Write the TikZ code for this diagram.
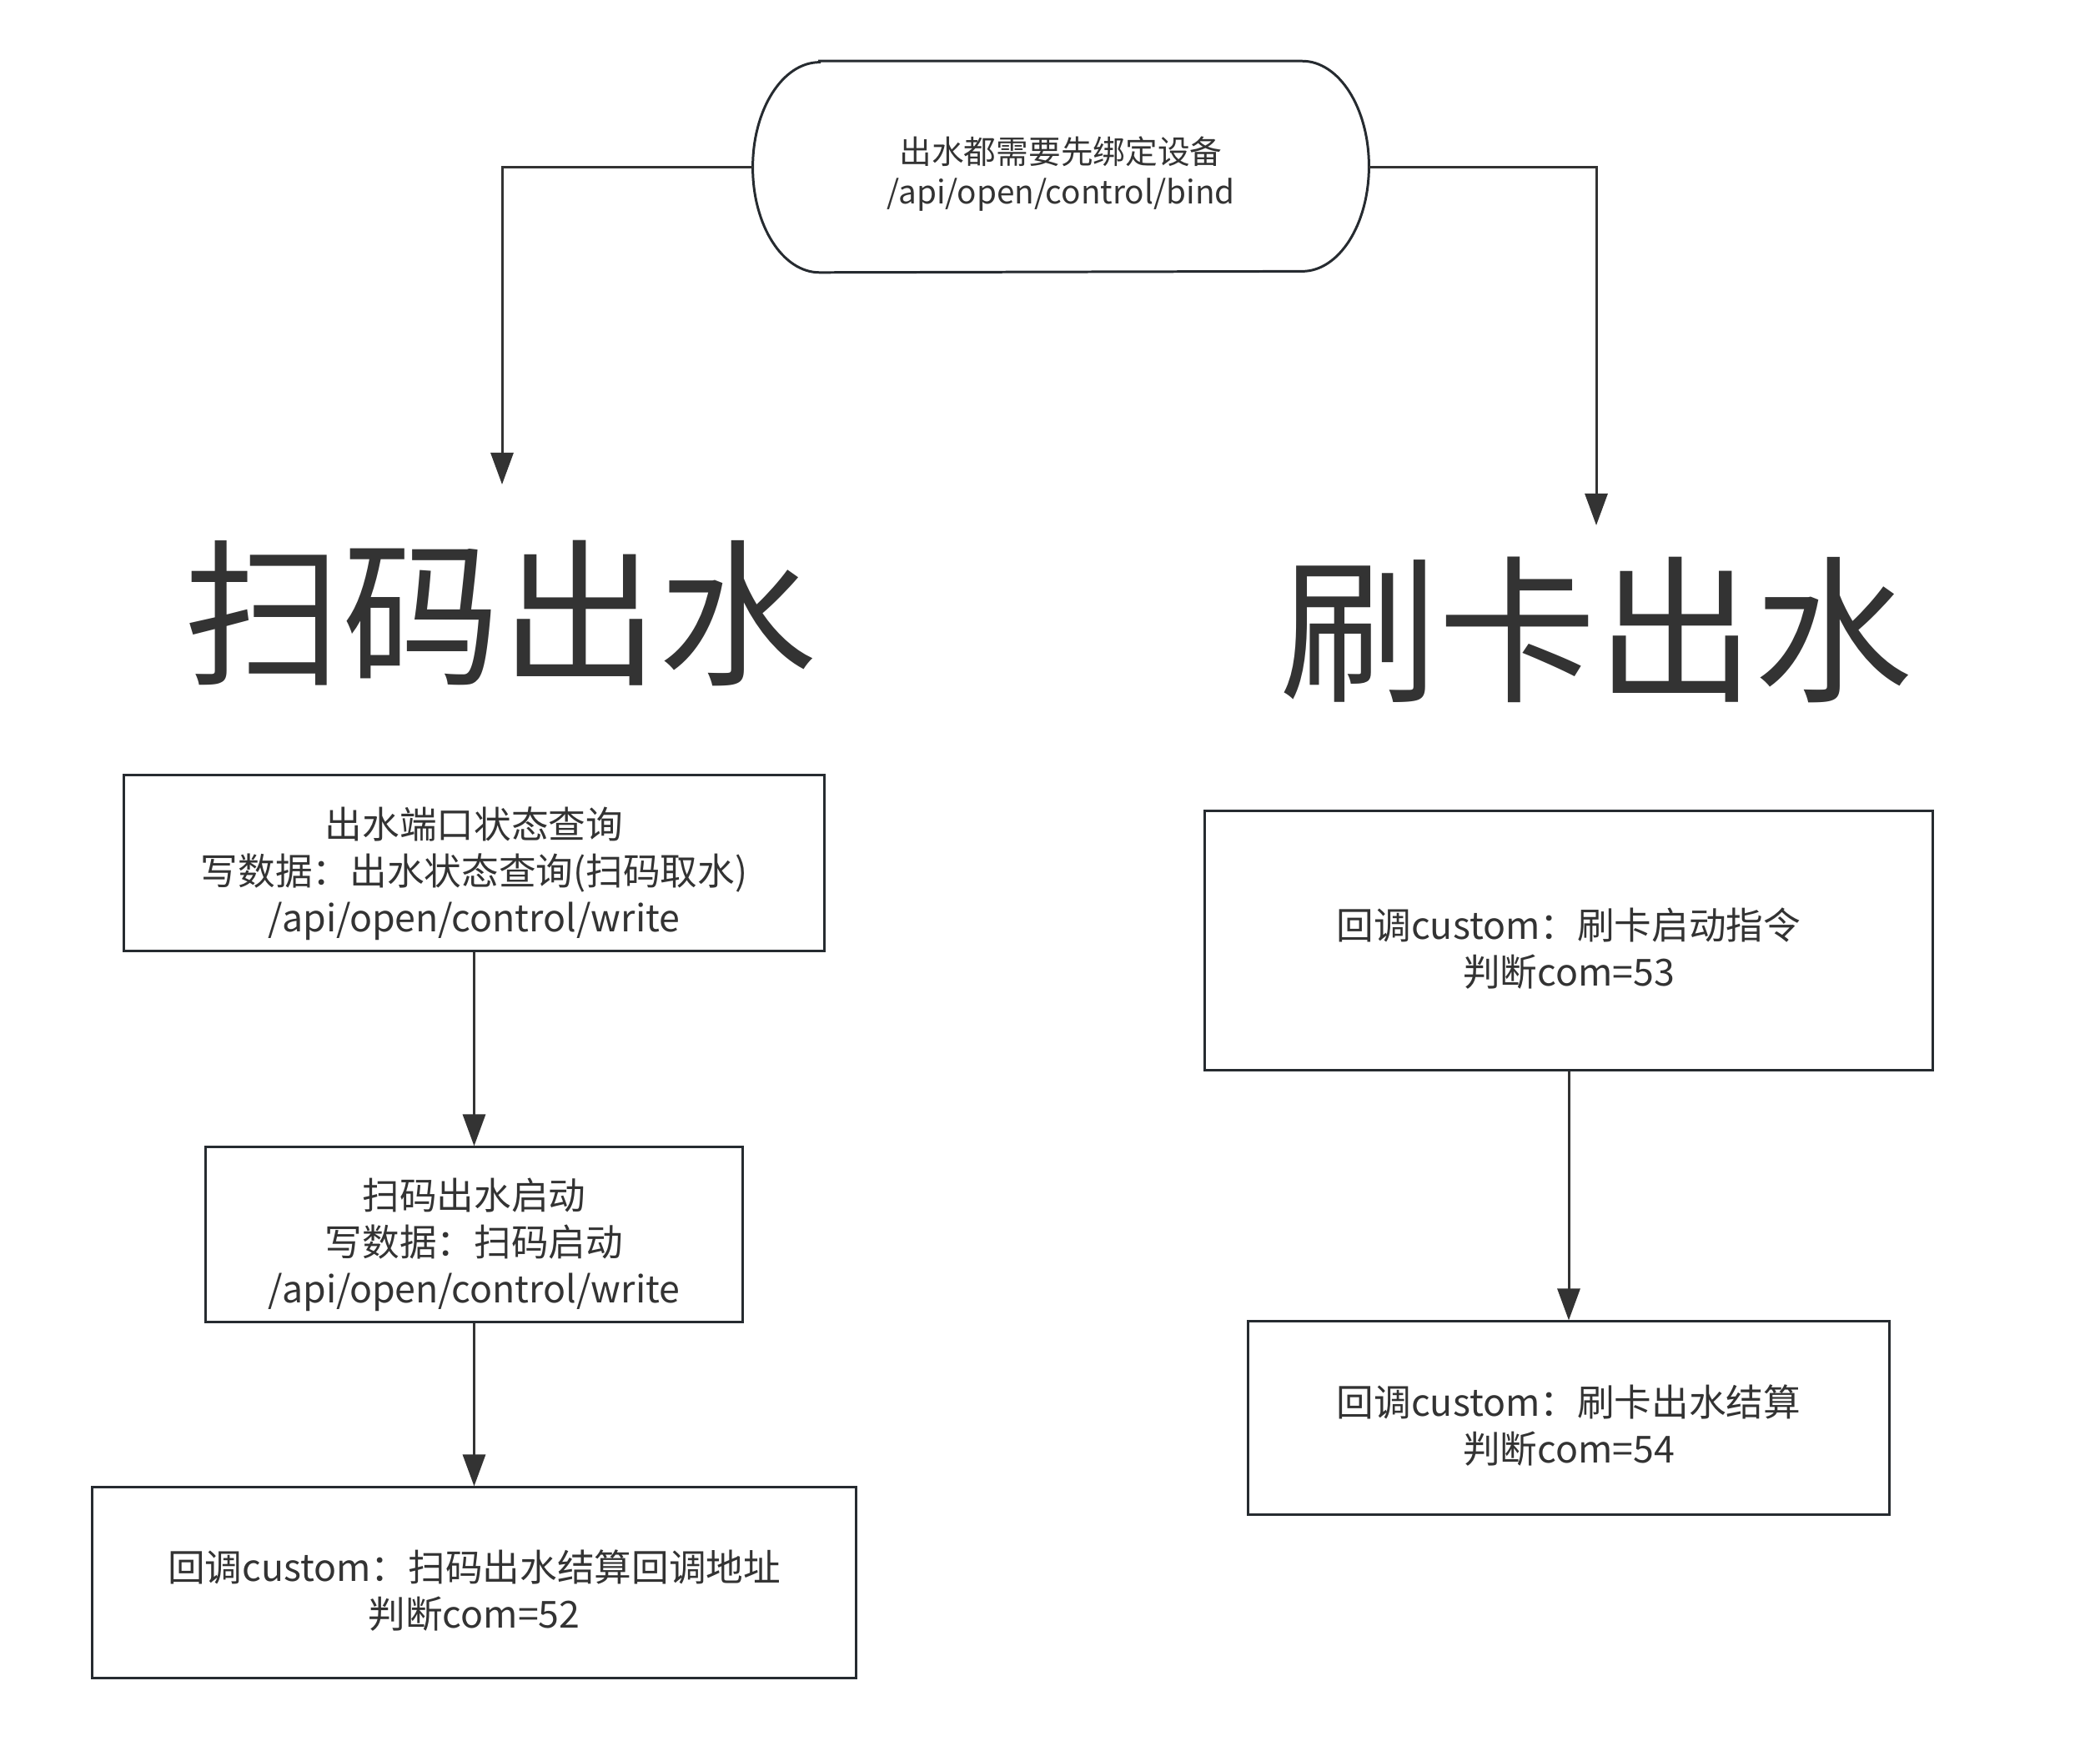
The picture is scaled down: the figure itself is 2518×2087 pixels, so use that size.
\documentclass[tikz,border=0pt]{standalone}
\usepackage{fontspec}
\setmainfont{Noto Sans CJK SC}
\usepackage{xcolor}
\usepackage{tikz}
\usetikzlibrary{arrows.meta,positioning}

\definecolor{inkgray}{HTML}{333333}
\definecolor{edgegray}{HTML}{262B30}

\newcommand{\boxstrut}{\rule{0pt}{15pt}}
\newcommand{\bindstrut}{\rule{0pt}{11.5pt}}

\tikzset{
  flowbox/.style = {draw = edgegray, line width = 0.85pt, fill = white,
    align = center, text = inkgray, inner sep = 0pt, text depth = 0pt,
    font = \fontsize{12.7}{15.9}\selectfont},
  outline/.style = {draw = edgegray, line width = 0.85pt},
  flowline/.style = {draw = inkgray, line width = 0.85pt,
    -{Triangle[width=0.27cm,length=0.38cm]}},
  bigtitle/.style = {text = inkgray, inner sep = 0pt,
    font = \fontsize{54}{60}\selectfont}
}

\begin{document}
\begin{tikzpicture}[x=0.01cm, y=-0.01cm]

\useasboundingbox (0,0) rectangle (2518,2087);

% top terminator
\node (bind)
[align = center, text = inkgray, inner sep = 0pt, text depth = 0pt,
 minimum width = 7.37cm, minimum height = 2.52cm,
 font = \fontsize{11}{13.6}\selectfont]
at (1272,200) {\bindstrut 出水都需要先绑定设备\\/api/open/control/bind};
\draw[outline]
  ([xshift=0.8cm]bind.north west) -- ([xshift=-0.8cm]bind.north east)
  arc[start angle=90, end angle=-90, x radius=0.8cm, y radius=1.26cm]
  -- ([xshift=0.8cm]bind.south west)
  arc[start angle=270, end angle=90, x radius=0.8cm, y radius=1.26cm]
  -- cycle;

% titles
\node[bigtitle] (scanTitle) at (600,736) {扫码出水};
\node[bigtitle] (cardTitle) at (1914,755) {刷卡出水};

\coordinate (scanTip) at (602,581);
\coordinate (cardTip) at (1914,630);

% left column
\node[flowbox, minimum width = 8.39cm, minimum height = 2.10cm]
  (query) at (568.5,1035)
  {\boxstrut 出水端口状态查询\\写数据：出水状态查询(扫码取水)\\/api/open/control/write};
\node[flowbox, minimum width = 6.43cm, minimum height = 2.09cm]
  (start) at (568.5,1480.5)
  {\boxstrut 扫码出水启动\\写数据：扫码启动\\/api/open/control/write};
\node[flowbox, minimum width = 9.15cm, minimum height = 2.28cm]
  (settle) at (568.5,1898)
  {\boxstrut 回调custom：扫码出水结算回调地址\\判断com=52};

% right column
\node[flowbox, minimum width = 8.72cm, minimum height = 3.10cm]
  (cardStart) at (1881,1128)
  {\boxstrut 回调custom：刷卡启动指令\\判断com=53};
\node[flowbox, minimum width = 7.69cm, minimum height = 2.31cm]
  (cardSettle) at (1881,1700.5)
  {\boxstrut 回调custom：刷卡出水结算\\判断com=54};

% connectors
\draw[flowline] (bind.west) -| (scanTip);
\draw[flowline] (bind.east) -| (cardTip);
\draw[flowline] (query) -- (start);
\draw[flowline] (start) -- (settle);
\draw[flowline] (cardStart) -- (cardSettle);

\end{tikzpicture}
\end{document}
